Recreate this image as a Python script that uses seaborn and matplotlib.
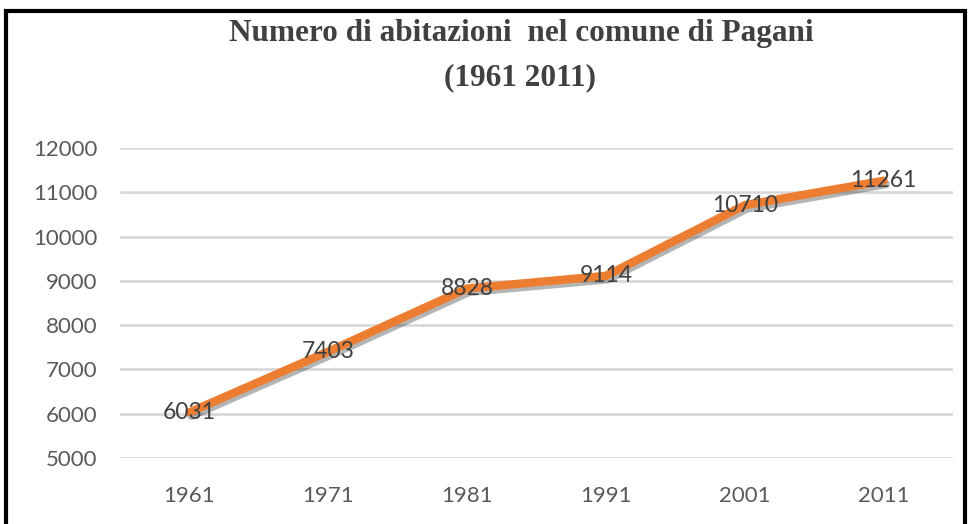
import matplotlib
matplotlib.use('Agg')
import matplotlib.pyplot as plt
import matplotlib.patheffects as pe
from matplotlib.patches import Rectangle
import seaborn as sns
import pandas as pd

# Data
years = ['1961', '1971', '1981', '1991', '2001', '2011']
abitazioni = [6031, 7403, 8828, 9114, 10710, 11261]
y_ticks = [5000, 6000, 7000, 8000, 9000, 10000, 11000, 12000]

df = pd.DataFrame({'anno': years, 'abitazioni': abitazioni})
df['pos'] = range(len(df))

sns.set_style('white')
plt.rcParams['font.family'] = ['Lato', 'DejaVu Sans']

fig = plt.figure(figsize=(9.7, 5.24), dpi=100)
ax = fig.add_axes([120 / 970, 1 - 458 / 524, (953 - 120) / 970, (458 - 148) / 524])

# Gridlines
for t in y_ticks:
    ax.axhline(t, color='#d9d9d9', lw=2, zorder=0)

# Line with soft shadow
sns.lineplot(data=df, x='pos', y='abitazioni', ax=ax, color='#ed7d31', lw=6,
             solid_capstyle='round',
             path_effects=[pe.SimpleLineShadow(offset=(1.5, -2.5), shadow_color='#444444', alpha=0.4),
                           pe.Normal()],
             zorder=3)

# Data labels centred on points
for x, v in zip(df['pos'], df['abitazioni']):
    ax.text(x, v, str(v), ha='center', va='center', fontsize=16.5, color='#404040', zorder=4)

ax.set_xlim(-0.5, len(years) - 0.5)
ax.set_ylim(5000, 12000)
ax.set_xticks(df['pos'])
ax.set_xticklabels(years)
ax.set_yticks(y_ticks)
ax.tick_params(axis='both', length=0, labelsize=16, labelcolor='#595959')
ax.tick_params(axis='x', pad=20)
ax.tick_params(axis='y', pad=16.5)
ax.set_xlabel('')
ax.set_ylabel('')
for s in ax.spines.values():
    s.set_visible(False)

# Title
fig.text(521 / 970, 1 - 34 / 524, 'Numero di abitazioni  nel comune di Pagani', ha='center', va='center',
         fontsize=22.5, fontweight='bold', color='#404040', family='Liberation Serif')
fig.text(520 / 970, 1 - 78 / 524, '(1961 2011)', ha='center', va='center',
         fontsize=22.5, fontweight='bold', color='#404040', family='Liberation Serif')

# Black frame
fig.patches.append(Rectangle((6 / 970, -0.05), (965 - 6) / 970, 1.05 - 11 / 524,
                             transform=fig.transFigure, fill=False, edgecolor='black', lw=3))

fig.savefig('out.png', dpi=100)
